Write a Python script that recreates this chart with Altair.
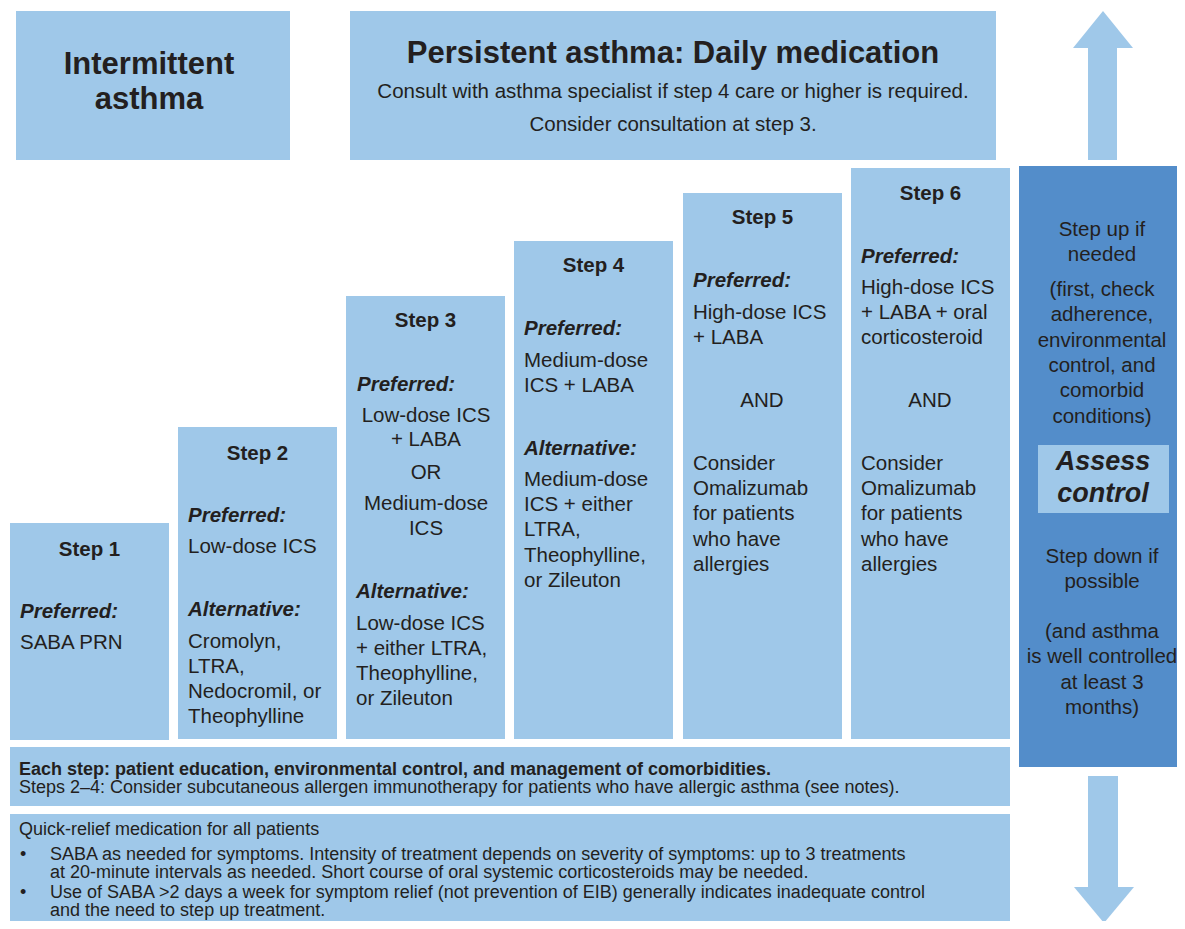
import altair as alt
import pandas as pd

LIGHT = "#9fc8e9"
DARK = "#538dca"
INK = "#231f20"
FONT = "Liberation Sans"

# ---------------- boxes (x0, x1, y0, y1, fill) ----------------
box_x0 = [16, 350, 1088, 10, 178, 346, 514, 683, 851, 1019, 1038, 1088, 10, 10]
box_x1 = [290, 996, 1117, 169, 337, 505, 673, 842, 1010, 1185, 1169, 1118, 1010, 1010]
box_y0 = [11, 11, 46, 523, 427, 296, 241, 193, 168, 166, 445, 776, 747, 814]
box_y1 = [160, 160, 160, 740, 739, 739, 739, 739, 739, 767, 513, 889, 806, 935]
box_fill = [LIGHT, LIGHT, LIGHT, LIGHT, LIGHT, LIGHT, LIGHT, LIGHT, LIGHT, DARK, LIGHT, LIGHT, LIGHT, LIGHT]

# ---------------- arrow heads ----------------
arrow_id = ["up", "up", "up", "down", "down", "down"]
arrow_x = [1073, 1103, 1133, 1074, 1104, 1134]
arrow_y = [48, 11, 48, 887, 923, 887]
arrow_base = [48, 48, 48, 887, 887, 887]

# ---------------- texts ----------------
head_text = ["Intermittent", "asthma", "Persistent asthma: Daily medication"]
head_x = [149, 149, 673]
head_y = [63, 98, 52]

sub_text = ["Consult with asthma specialist if step 4 care or higher is required.",
            "Consider consultation at step 3."]
sub_x = [673, 673]
sub_y = [90, 123]

step_text = ["Step 1", "Step 2", "Step 3", "Step 4", "Step 5", "Step 6"]
step_x = [89.5, 257.5, 425.5, 593.5, 762.5, 930.5]
step_y = [548, 452, 319, 264, 216, 192]

label_text = ["Preferred:", "Preferred:", "Alternative:", "Preferred:", "Alternative:",
              "Preferred:", "Alternative:", "Preferred:", "Preferred:"]
label_x = [20, 188, 188, 357, 356, 524, 524, 693, 861]
label_y = [610, 514, 608, 383, 590, 327, 447, 279, 255]

body_text = ["SABA PRN",
             "Low-dose ICS", "Cromolyn,", "LTRA,", "Nedocromil, or", "Theophylline",
             "Low-dose ICS", "+ either LTRA,", "Theophylline,", "or Zileuton",
             "Medium-dose", "ICS + LABA", "Medium-dose", "ICS + either", "LTRA,", "Theophylline,", "or Zileuton",
             "High-dose ICS", "+ LABA", "Consider", "Omalizumab", "for patients", "who have", "allergies",
             "High-dose ICS", "+ LABA + oral", "corticosteroid", "Consider", "Omalizumab", "for patients", "who have", "allergies"]
body_x = [20,
          188, 188, 188, 188, 188,
          356, 356, 356, 356,
          524, 524, 524, 524, 524, 524, 524,
          693, 693, 693, 693, 693, 693, 693,
          861, 861, 861, 861, 861, 861, 861, 861]
body_y = [641,
          545, 640, 665, 690, 715,
          622, 647, 672, 697,
          359, 384, 478, 503, 528, 554, 579,
          311, 336, 462, 487, 512, 538, 563,
          286, 311, 336, 462, 487, 512, 538, 563]

center_text = ["Low-dose ICS", "+ LABA", "OR", "Medium-dose", "ICS", "AND", "AND",
               "Step up if", "needed", "(first, check", "adherence,", "environmental",
               "control, and", "comorbid", "conditions)",
               "Step down if", "possible", "(and asthma", "is well controlled", "at least 3", "months)"]
center_x = [426, 426, 426, 426, 426, 762, 930] + [1102] * 14
center_y = [414, 438, 471, 502, 527, 399, 399,
            228, 253, 288, 313, 339, 364, 389, 415,
            555, 580, 630, 655, 681, 706]

assess_text = ["Assess", "control"]
assess_x = [1103, 1103]
assess_y = [460, 492]

foot_bold_text = ["Each step: patient education, environmental control, and management of comorbidities."]
foot_bold_x = [19]
foot_bold_y = [768]

foot_text = ["Steps 2\u20134: Consider subcutaneous allergen immunotherapy for patients who have allergic asthma (see notes).",
             "Quick-relief medication for all patients",
             "\u2022", "SABA as needed for symptoms. Intensity of treatment depends on severity of symptoms: up to 3 treatments",
             "at 20-minute intervals as needed. Short course of oral systemic corticosteroids may be needed.",
             "\u2022", "Use of SABA >2 days a week for symptom relief (not prevention of EIB) generally indicates inadequate control",
             "and the need to step up treatment."]
foot_x = [19, 19, 20, 50, 50, 20, 50, 50]
foot_y = [788, 830, 855, 855, 873, 893, 893, 911]

# ---------------- chart ----------------
# page has an 8px margin: map picture coordinates so that x=8,y=8 is the plot's top-left corner
W, H = 1169, 913
xs = alt.Scale(domain=[8, 8 + W], nice=False, zero=False)
ys = alt.Scale(domain=[8, 8 + H], nice=False, zero=False, reverse=True)

boxes = pd.DataFrame({"x0": box_x0, "x1": box_x1, "y0": box_y0, "y1": box_y1, "fill": box_fill})
rect_layer = alt.Chart(boxes).mark_rect(clip=True).encode(
    x=alt.X("x0:Q", scale=xs, axis=None),
    x2="x1:Q",
    y=alt.Y("y0:Q", scale=ys, axis=None),
    y2="y1:Q",
    color=alt.Color("fill:N", scale=None),
)

arrows = pd.DataFrame({"id": arrow_id, "x": arrow_x, "y": arrow_y, "b": arrow_base})
arrow_layer = alt.Chart(arrows).mark_area(color=LIGHT, clip=True, interpolate="linear").encode(
    x=alt.X("x:Q", scale=xs, axis=None),
    y=alt.Y("y:Q", scale=ys, axis=None),
    y2="b:Q",
    detail="id:N",
)


def text_layer(texts, xv, yv, size, weight="normal", style="normal", align="left", dy=1.5):
    df = pd.DataFrame({"t": texts, "x": xv, "y": yv})
    return alt.Chart(df).mark_text(
        font=FONT, fontSize=size, fontWeight=weight, fontStyle=style,
        align=align, baseline="middle", color=INK, dy=dy,
    ).encode(
        x=alt.X("x:Q", scale=xs, axis=None),
        y=alt.Y("y:Q", scale=ys, axis=None),
        text="t:N",
    )


layers = [
    rect_layer,
    arrow_layer,
    text_layer(head_text, head_x, head_y, 31, weight="bold", align="center"),
    text_layer(sub_text, sub_x, sub_y, 20.5, align="center"),
    text_layer(step_text, step_x, step_y, 20.5, weight="bold", align="center"),
    text_layer(label_text, label_x, label_y, 20.5, weight="bold", style="italic"),
    text_layer(body_text, body_x, body_y, 20.5),
    text_layer(center_text, center_x, center_y, 20.5, align="center"),
    text_layer(assess_text, assess_x, assess_y, 27, weight="bold", style="italic", align="center"),
    text_layer(foot_bold_text, foot_bold_x, foot_bold_y, 18, weight="bold"),
    text_layer(foot_text, foot_x, foot_y, 18, dy=0),
]

chart = alt.layer(*layers).properties(
    width=W, height=H, padding=0, autosize=alt.AutoSizeParams(type="none"),
    background="white",
).configure_view(stroke=None)

chart.save("out.html", embed_options={"renderer": "svg", "actions": False})
